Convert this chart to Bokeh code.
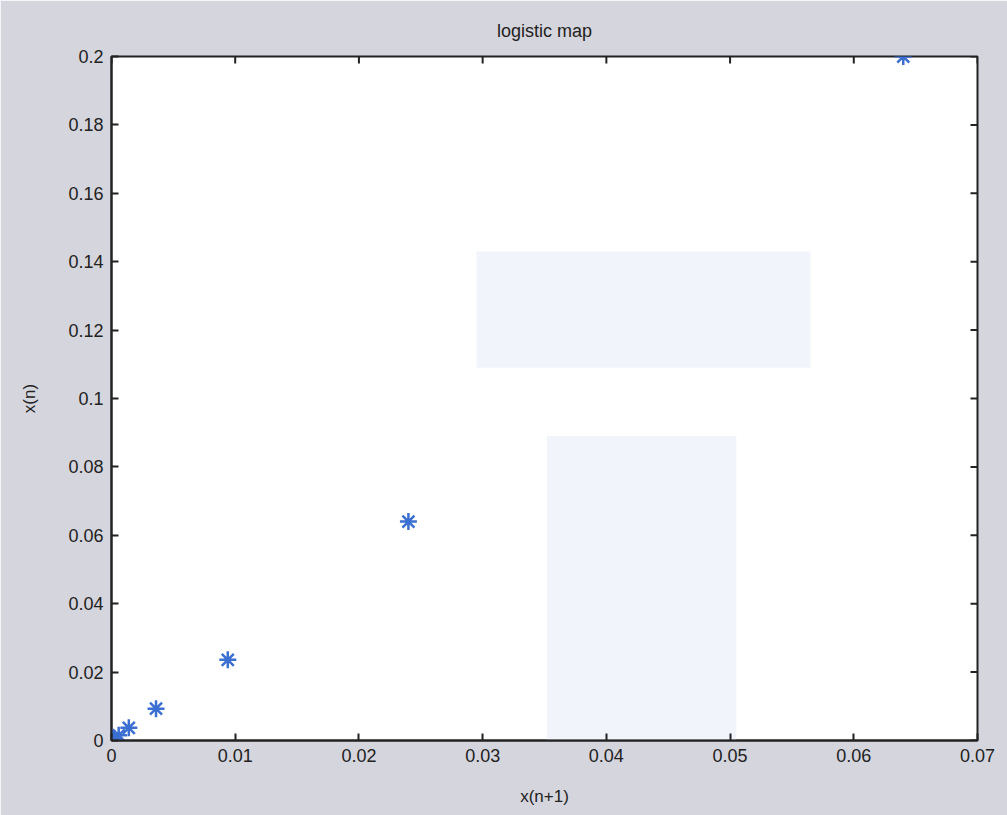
import math
from bokeh.plotting import figure
from bokeh.models import Range1d, FixedTicker, BoxAnnotation, CustomJSTickFormatter
from bokeh.embed import file_html
from bokeh.resources import INLINE

# data: x(n+1) against x(n)
x_next = [0.064, 0.024, 0.0094, 0.0036, 0.0014, 0.00058, 0.00023, 0.00009, 0.00004, 0.00001, 0.0]
x_n = [0.2, 0.064, 0.0236, 0.0093, 0.0037, 0.0015, 0.0006, 0.00024, 0.0001, 0.00004, 0.0]
x_ticks = [0, 0.01, 0.02, 0.03, 0.04, 0.05, 0.06, 0.07]
y_ticks = [0, 0.02, 0.04, 0.06, 0.08, 0.1, 0.12, 0.14, 0.16, 0.18, 0.2]

BG = "#d5d5dd"
FONT = "Liberation Sans"
INK = "#222222"

X0, X1, Y0, Y1 = 0, 0.07, 0, 0.2

p = figure(width=1007, height=815, output_backend="svg", toolbar_location=None,
           x_range=Range1d(X0, X1), y_range=Range1d(Y0, Y1),
           min_border_left=111, min_border_right=30, min_border_top=56, min_border_bottom=75,
           background_fill_color="white", border_fill_color=BG,
           outline_line_color=INK, outline_line_width=2)
p.grid.visible = False

fmt = CustomJSTickFormatter(code="return tick == 0 ? '0' : String(parseFloat(tick.toFixed(4)));")

for ax in p.xaxis + p.yaxis:
    ax.major_tick_in = 7
    ax.major_tick_out = 0
    ax.minor_tick_line_color = None
    ax.axis_line_color = INK
    ax.axis_line_width = 2
    ax.major_tick_line_color = INK
    ax.major_tick_line_width = 2
    ax.major_label_text_font = FONT
    ax.major_label_text_font_size = "18px"
    ax.major_label_text_color = INK
    ax.axis_label_text_font = FONT
    ax.axis_label_text_font_size = "17px"
    ax.axis_label_text_font_style = "normal"
    ax.axis_label_text_color = INK
    ax.formatter = fmt
p.xaxis.ticker = FixedTicker(ticks=x_ticks)
p.yaxis.ticker = FixedTicker(ticks=y_ticks)
p.xaxis.axis_label = "x(n+1)"
p.yaxis.axis_label = "x(n)"
p.xaxis.major_label_standoff = 8
p.yaxis.major_label_standoff = 8
p.xaxis.axis_label_standoff = 22
p.yaxis.axis_label_standoff = 26

p.title.text = "logistic map"
p.title.align = "center"
p.title.text_font = FONT
p.title.text_font_size = "18px"
p.title.text_font_style = "normal"
p.title.text_color = INK
p.title.standoff = 31

# faint scan watermark
p.add_layout(BoxAnnotation(left=0.0295, right=0.0565, bottom=0.109, top=0.143,
                           fill_color="#e8edf6", fill_alpha=0.6, line_color=None, level="underlay"))
p.add_layout(BoxAnnotation(left=0.0352, right=0.0505, bottom=0.0, top=0.089,
                           fill_color="#e8edf6", fill_alpha=0.6, line_color=None, level="underlay"))

# box ticks on the top and right edges (only the inner half survives clipping)
p.scatter(x_ticks, [Y1] * len(x_ticks), marker="dash", angle=math.pi / 2, size=14,
          line_color=INK, line_width=2)
p.scatter([X1] * len(y_ticks), y_ticks, marker="dash", size=14, line_color=INK, line_width=2)

p.scatter(x_next, x_n, marker="asterisk", size=17, line_color="#3c6fd2", line_width=2.5)

open("out.html", "w").write(file_html(p, INLINE))
